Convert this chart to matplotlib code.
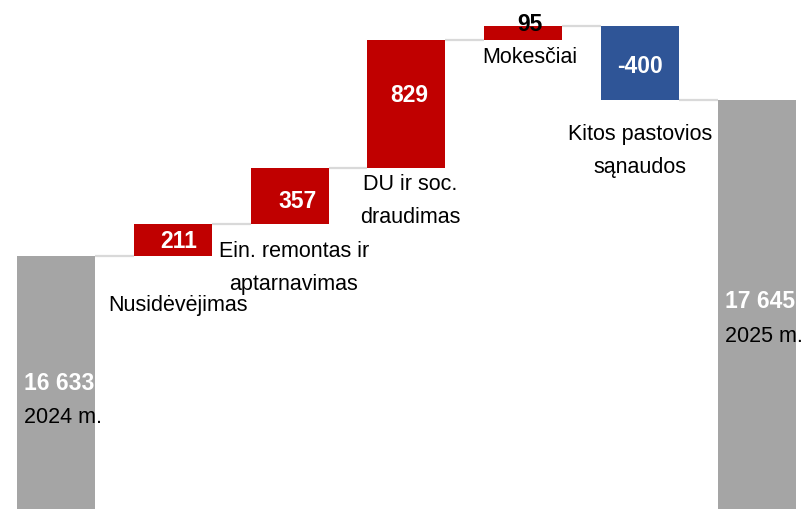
import matplotlib
matplotlib.use("Agg")
import matplotlib.pyplot as plt

# ---- data ----
categories = ["2024 m.", "Nusidėvėjimas", "Ein. remontas ir\naptarnavimas",
              "DU ir soc.\ndraudimas", "Mokesčiai", "Kitos pastovios\nsąnaudos", "2025 m."]
values = [16633, 211, 357, 829, 95, -400, 17645]
value_labels = ["16 633", "211", "357", "829", "95", "-400", "17 645"]
is_total = [True, False, False, False, False, False, True]

# ---- styles ----
C_TOTAL = "#a5a5a5"
C_UP = "#c00000"
C_DOWN = "#2f5597"
C_CONN = "#d9d9d9"
W = 0.668
NUM_FONT = ["Liberation Sans", "DejaVu Sans"]
TXT_FONT = ["Liberation Sans", "DejaVu Sans"]
NUM_SIZE = 16.5
TXT_SIZE = 15.5
LINE_GAP = 33  # pixels between lines of category labels

# label offsets in pixels (dx, dy)
val_off = {1: (5.5, -8), 2: (8, -12), 3: (3, 2), 4: (7, 2), 5: (0, -10)}
tot_val_off = {0: (7, -134), 6: (7, -208)}
tot_cat_off = {0: (7, -167), 6: (7, -242)}
cat_off = {1: (5.5, -55), 2: (4, -33), 3: (4, -22), 4: (6.5, -23), 5: (0, -40)}

# ---- compute waterfall geometry ----
n = len(values)
bottoms, heights, colors = [], [], []
running = 0
final_total = values[-1]
last_delta = max(i for i in range(n) if not is_total[i])
for i, v in enumerate(values):
    if is_total[i]:
        bottoms.append(0)
        heights.append(v)
        colors.append(C_TOTAL)
        running = v
    else:
        end = final_total if i == last_delta else running + v
        bottoms.append(min(running, end))
        heights.append(abs(end - running))
        colors.append(C_UP if v >= 0 else C_DOWN)
        running = end

fig = plt.figure(figsize=(8.05, 5.09), dpi=100)
ax = fig.add_axes([0, 0, 1, 1])
ax.set_xlim(-0.479, 6.411)
ax.set_ylim(15000, 18290)
ax.axis("off")

xs = list(range(n))
ax.bar(xs, heights, bottom=bottoms, width=W, color=colors, zorder=2)

# connectors
for i in range(n - 1):
    if is_total[i] or values[i] >= 0:
        level = bottoms[i] + heights[i]
    else:
        level = bottoms[i]
    ax.plot([i + W / 2, i + 1 - W / 2], [level, level], color=C_CONN, lw=1.6, zorder=1,
            solid_capstyle="butt")

for i in range(n):
    top = bottoms[i] + heights[i]
    bot = bottoms[i]
    mid = (top + bot) / 2
    if is_total[i]:
        dx, dy = tot_val_off[i]
        ax.annotate(value_labels[i], (i - W / 2, top), xytext=(dx, dy), textcoords="offset pixels",
                    ha="left", va="baseline", color="white", fontsize=NUM_SIZE, fontweight="bold",
                    family=NUM_FONT)
        dx, dy = tot_cat_off[i]
        ax.annotate(categories[i], (i - W / 2, top), xytext=(dx, dy), textcoords="offset pixels",
                    ha="left", va="baseline", color="black", fontsize=TXT_SIZE, family=TXT_FONT)
    else:
        dx, dy = val_off[i]
        col = "black" if i == 4 else "white"
        ax.annotate(value_labels[i], (i, mid), xytext=(dx, dy), textcoords="offset pixels",
                    ha="center", va="baseline", color=col, fontsize=NUM_SIZE, fontweight="bold",
                    family=NUM_FONT, zorder=3)
        dx, dy = cat_off[i]
        for j, line in enumerate(categories[i].split("\n")):
            ax.annotate(line, (i, bot), xytext=(dx, dy - j * LINE_GAP), textcoords="offset pixels",
                        ha="center", va="baseline", color="black", fontsize=TXT_SIZE,
                        family=TXT_FONT)

fig.savefig("out.png", dpi=100)
